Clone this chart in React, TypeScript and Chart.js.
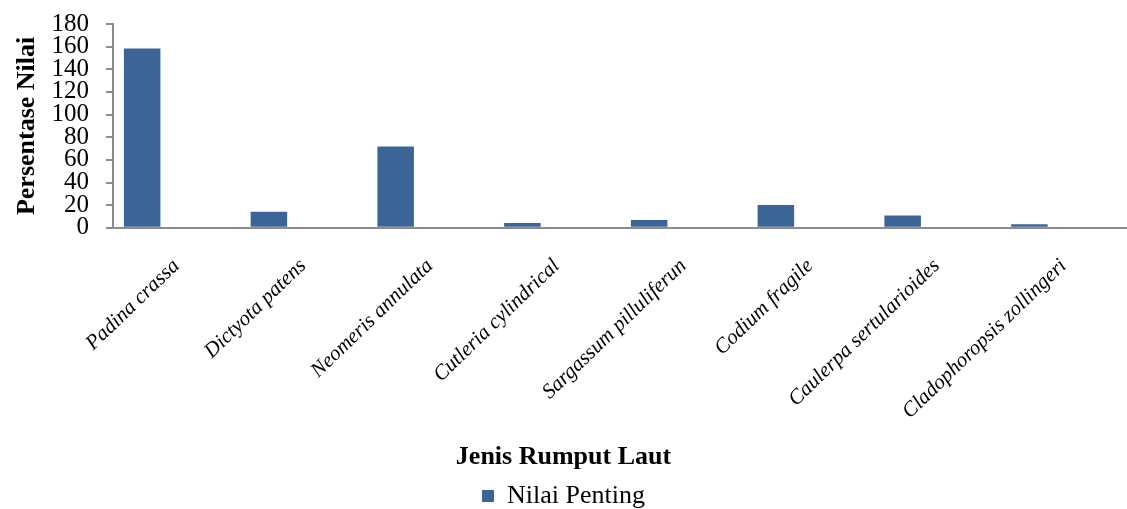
import React, { useEffect, useRef } from "react";
import { Chart, registerables } from "chart.js";

Chart.register(...registerables);

const categories = [
  "Padina crassa",
  "Dictyota patens",
  "Neomeris annulata",
  "Cutleria cylindrical",
  "Sargassum pilluliferun",
  "Codium fragile",
  "Caulerpa sertularioides",
  "Cladophoropsis zollingeri",
];
const nilaiPenting = [158.4, 14.2, 71.7, 4.2, 6.8, 20.2, 10.9, 3.1];
const emptySeries: (number | null)[] = [null, null, null, null, null, null, null, null];
const seriesName = "Nilai Penting";
const yTitle = "Persentase Nilai";
const xTitle = "Jenis Rumput Laut";
const yMin = 0;
const yMax = 180;
const yStep = 20;

const SERIF = "'Liberation Serif', 'Times New Roman', serif";
const AXIS = "#8c8c8c";
const BAR = "#3c6496";

export default function App() {
  const ref = useRef<HTMLCanvasElement | null>(null);

  useEffect(() => {
    document.body.style.margin = "0";
    const canvas = ref.current;
    if (!canvas) return;
    const chart = new Chart(canvas, {
      type: "bar",
      data: {
        labels: categories,
        datasets: [
          {
            label: seriesName,
            data: nilaiPenting,
            backgroundColor: BAR,
            borderWidth: 0,
            categoryPercentage: 0.81,
            barPercentage: 1.067,
          },
          {
            label: "_b",
            data: emptySeries,
            backgroundColor: "transparent",
            categoryPercentage: 0.81,
            barPercentage: 1.067,
          },
          {
            label: "_c",
            data: emptySeries,
            backgroundColor: "transparent",
            categoryPercentage: 0.81,
            barPercentage: 1.067,
          },
        ],
      },
      options: {
        animation: false,
        responsive: false,
        maintainAspectRatio: false,
        layout: { padding: { top: 24, left: 0, right: 0, bottom: -10 } },
        scales: {
          x: {
            afterFit: (scale: any) => {
              scale.height = 214;
            },
            grid: { display: false },
            border: { display: true, color: AXIS, width: 2 },
            ticks: {
              minRotation: 44,
              maxRotation: 44,
              autoSkip: false,
              padding: 18,
              color: "#000",
              font: { family: SERIF, size: 21, style: "italic" },
            },
          },
          y: {
            min: yMin,
            max: yMax,
            afterFit: (scale: any) => {
              scale.width = 113;
              scale.paddingTop = 0;
              scale.paddingBottom = 0;
            },
            grid: {
              drawOnChartArea: false,
              drawTicks: true,
              tickLength: 7,
              color: AXIS,
              lineWidth: 2,
            },
            border: { display: true, color: AXIS, width: 2 },
            ticks: {
              stepSize: yStep,
              autoSkip: false,
              padding: 17,
              color: "#000",
              font: { family: SERIF, size: 25 },
            },
            title: {
              display: true,
              text: yTitle,
              color: "#000",
              padding: { top: 12, bottom: 0 },
              font: { family: SERIF, size: 26, weight: "bold" },
            },
          },
        },
        plugins: {
          title: {
            display: true,
            text: xTitle,
            position: "bottom",
            weight: 500,
            color: "#000",
            padding: { top: 0, bottom: 10 },
            font: { family: SERIF, size: 26, weight: "bold" },
          } as any,
          legend: {
            display: true,
            position: "bottom",
            weight: 1000,
            labels: {
              filter: (item: any) => item.text === seriesName,
              boxWidth: 12,
              boxHeight: 12,
              padding: 0,
              color: "#000",
              font: { family: SERIF, size: 26 },
            },
          } as any,
          tooltip: { enabled: false },
        },
      },
    });
    return () => chart.destroy();
  }, []);

  return (
    <div style={{ width: 1127, height: 509, position: "relative", overflow: "hidden", background: "#fff" }}>
      <canvas ref={ref} width={1127} height={509} style={{ display: "block", width: 1127, height: 509 }} />
    </div>
  );
}
